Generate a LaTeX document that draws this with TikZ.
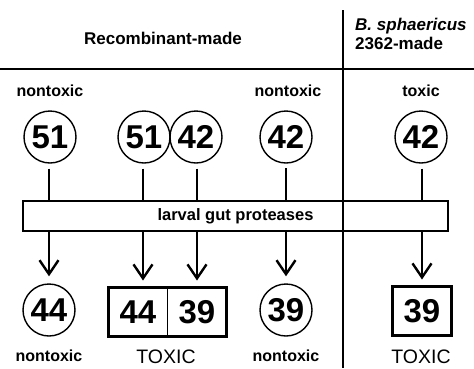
\documentclass[tikz,border=0pt]{standalone}
\usepackage{fontspec}
\setmainfont{Liberation Sans}
\usetikzlibrary{arrows.meta, positioning}

\begin{document}
\begin{tikzpicture}[
  x=1pt, y=-1pt,
  head/.style={font=\bfseries\fontsize{17}{19}\selectfont, inner sep=0pt},
  tag/.style={font=\bfseries\fontsize{16}{16}\selectfont, inner sep=0pt},
  verdict/.style={font=\fontsize{19.5}{20}\selectfont, inner sep=0pt},
  prot/.style={circle, draw, line width=1.4pt, minimum size=52pt, inner sep=0pt, font=\bfseries\fontsize{33}{33}\selectfont},
  frag/.style={rectangle, draw, line width=1.6pt, minimum width=59pt, minimum height=49pt, inner sep=0pt, outer sep=0pt, font=\bfseries\fontsize{33}{33}\selectfont},
  enzyme/.style={rectangle, draw, line width=1.4pt, minimum width=425pt, minimum height=30pt, font=\bfseries\fontsize{16.5}{16.5}\selectfont},
  link/.style={line width=2pt},
  cut/.style={line width=2.4pt, -{Straight Barb[length=14pt, width=19pt]}, shorten >=7pt}
]
\useasboundingbox (0,0) rectangle (474,368);

% frame
\draw[link] (0,69) -- (474,69);
\draw[link] (343,10) -- (343,368);

\node[head] (recomb) at (163,38) {Recombinant-made};
\node[head, align=left, anchor=west] (sphaer) at (355,34) {\textit{B. sphaericus}\\2362-made};

% before digestion
\node[tag] (tox1) at (50,91) {nontoxic};
\node[tag] (tox2) at (288,91) {nontoxic};
\node[tag] (tox3) at (421,91) {toxic};

\node[prot] (a1) at (50,137) {51};
\node[prot] (a2) at (144,137) {51};
\node[prot] (a3) at (196,137) {42};
\node[prot] (a4) at (286,137) {42};
\node[prot] (a5) at (421,137) {42};

\node[enzyme] (gut) at (235.5,216) {larval gut proteases};

% after digestion
\node[prot] (b1) at (49,310) {44};
\node[frag] (b2) at (138,312) {44};
\node[frag, right=0pt of b2] (b3) {39};
\node[prot] (b4) at (286,310) {39};
\node[frag, line width=3.5pt] (b5) at (422,311) {39};
\draw[line width=3.5pt] (b2.north west) rectangle (b3.south east);

\node[tag] (tox4) at (49,356) {nontoxic};
\node[verdict] (tox5) at (166,357) {TOXIC};
\node[tag] (tox6) at (286,356) {nontoxic};
\node[verdict] (tox7) at (421,357) {TOXIC};

% connections
\draw[link, shorten <=5pt] (a1.south -| 49,0) -- (gut.north -| 49,0);
\draw[link, shorten <=5pt] (a2.south -| 143,0) -- (gut.north -| 143,0);
\draw[link, shorten <=5pt] (a3.south -| 197,0) -- (gut.north -| 197,0);
\draw[link, shorten <=5pt] (a4) ++(0,26) -- (gut.north -| a4);
\draw[link, shorten <=5pt] (a5.south -| 422,0) -- (gut.north -| 422,0);

\draw[cut] (gut.south -| b1) -- (b1);
\draw[cut] (gut.south -| 143,0) -- (b2.north -| 143,0);
\draw[cut] (gut.south -| 197,0) -- (b3.north -| 197,0);
\draw[cut] (gut.south -| b4) -- (b4);
\draw[cut] (gut.south -| 422,0) -- (b5.north -| 422,0);
\end{tikzpicture}
\end{document}
